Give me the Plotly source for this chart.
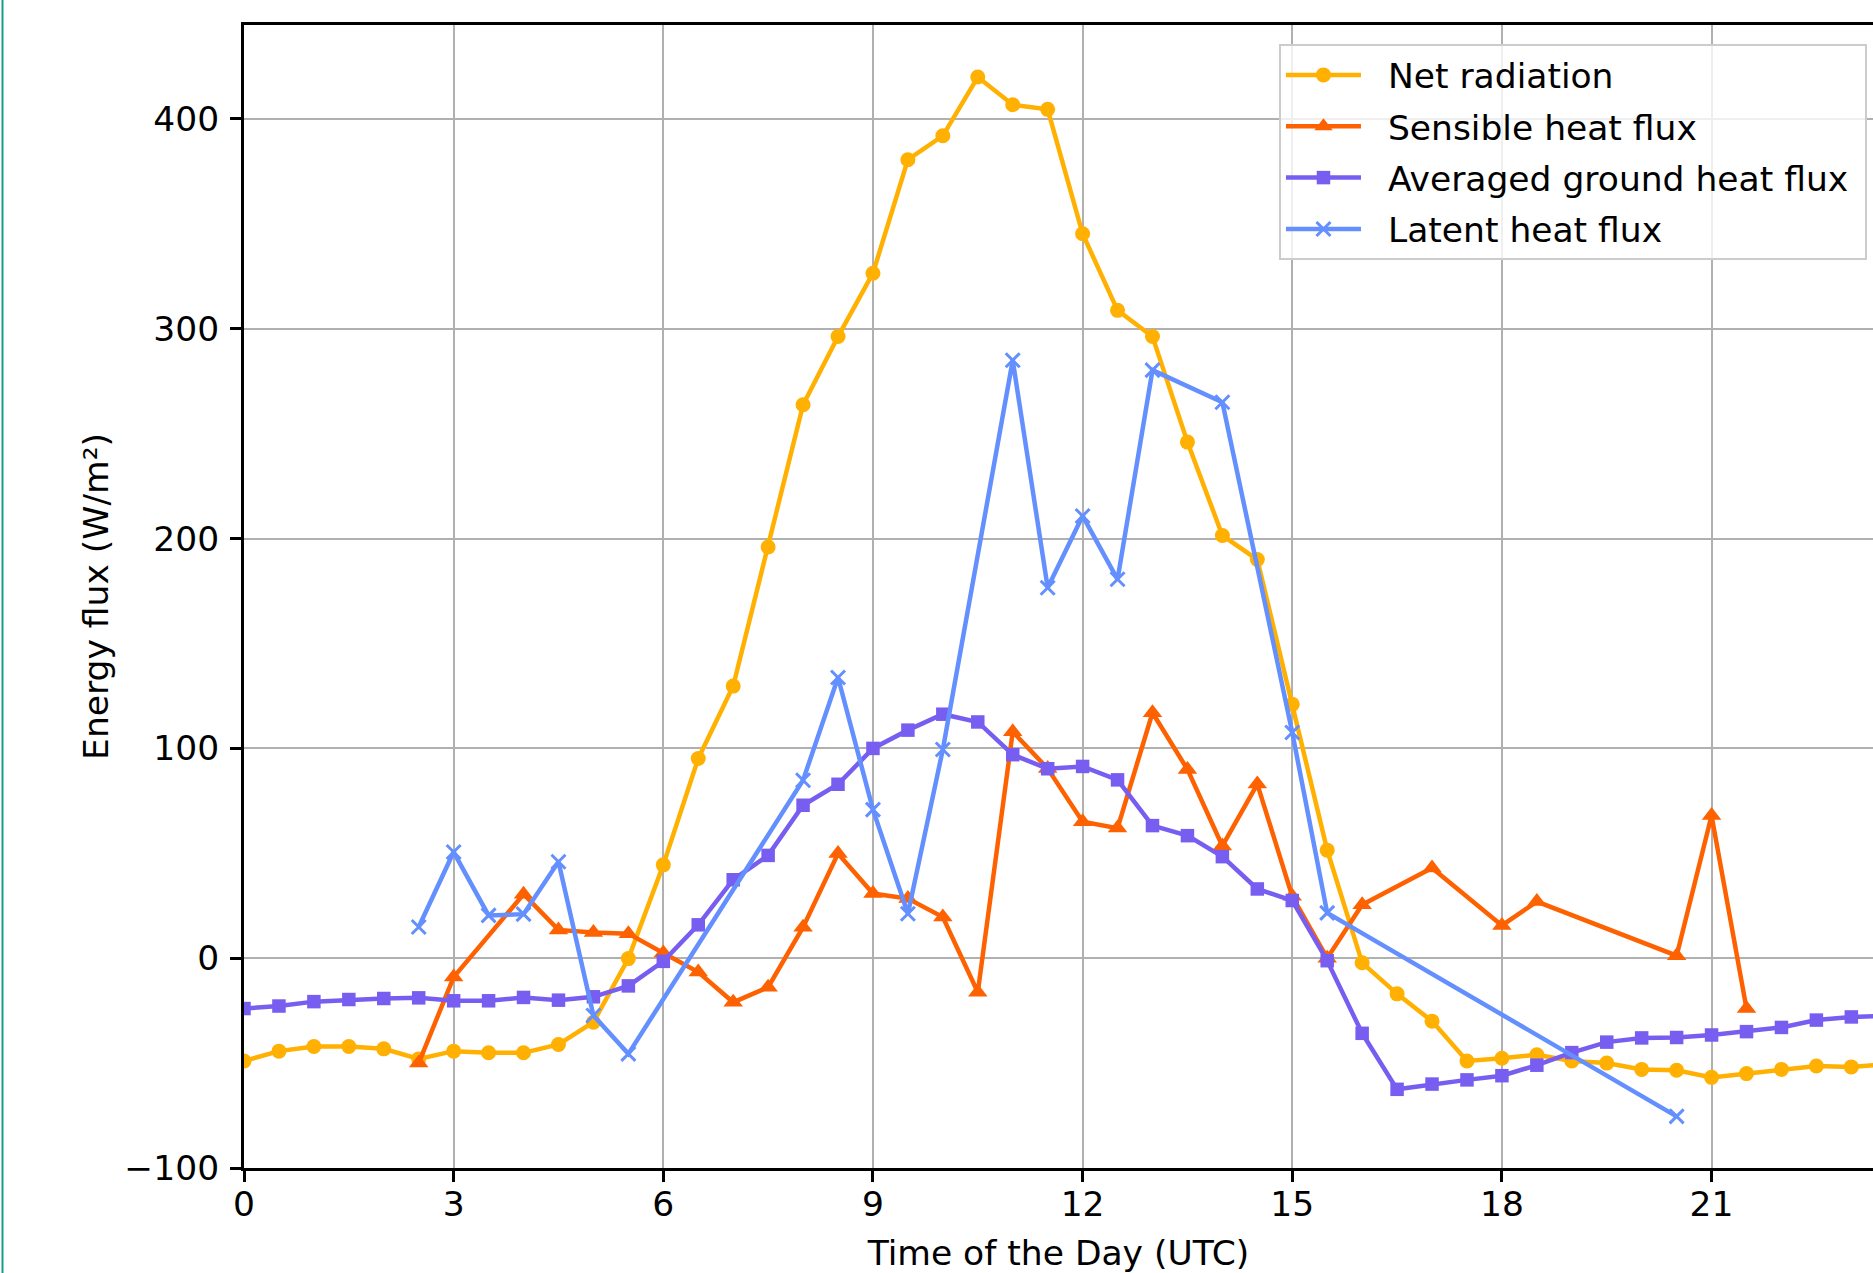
import plotly.graph_objects as go

# ---- data ----
hours_full = [i * 0.5 for i in range(48)]

net_radiation = [-49, -44.3, -42.1, -42.1, -43.2, -48, -44.3, -45.1, -45.1, -41.1,
                 -30.5, -0.2, 44.5, 95.2, 129.7, 196, 263.8, 296.3, 326.5, 380.6,
                 392, 420, 406.8, 404.6, 345.3, 308.8, 296.3, 246, 201.5, 190,
                 121, 51.5, -2.2, -17, -30, -49, -47.7, -46, -49, -50,
                 -53, -53.4, -56.8, -55, -53, -51.4, -51.8, -50.5]

sensible_hours = [2.5, 3, 4, 4.5, 5, 5.5, 6, 6.5, 7, 7.5, 8, 8.5, 9, 9.5, 10, 10.5,
                  11, 11.5, 12, 12.5, 13, 13.5, 14, 14.5, 15, 15.5, 16, 17, 18, 18.5,
                  20.5, 21, 21.5]
sensible_heat = [-50, -9, 30.5, 13.5, 12.2, 11.7, 2.5, -6.6, -21, -13.8, 14.8, 49.9,
                 30.8, 28.4, 19.6, -16.2, 107.9, 90.4, 65, 62, 117, 90, 53.5, 83,
                 29.5, 0, 25.5, 43, 15.6, 27, 1.2, 68, -24]

ground_heat = [-24, -22.8, -20.7, -19.7, -19.2, -18.9, -20.3, -20.3, -18.7, -20,
               -18.4, -13.2, -1.5, 15.9, 37.4, 49, 72.9, 82.9, 100, 108.7,
               116.3, 112.6, 97, 90.3, 91.4, 85, 63.2, 58.4, 48.4, 33,
               27.5, -1.2, -35.8, -62.5, -60, -58, -56, -51, -45, -40,
               -38, -37.8, -36.6, -35, -33, -29.5, -28, -27.5]

latent_hours = [2.5, 3, 3.5, 4, 4.5, 5, 5.5, 8, 8.5, 9, 9.5, 10, 11, 11.5, 12, 12.5,
                13, 14, 15, 15.5, 20.5]
latent_heat = [14.9, 50.6, 20.4, 21, 46, -27.3, -45.6, 84.8, 133.8, 70.8, 21.2, 99.5,
               285, 176.6, 210.8, 180.6, 280.3, 265, 107.6, 21.6, -75.4]

x_ticks = [0, 3, 6, 9, 12, 15, 18, 21]
y_ticks = [-100, 0, 100, 200, 300, 400]

FONT = "DejaVu Sans"
FS = 34.5
PAD_L = "\u00a0\u00a0"
PAD_R = "\u00a0"

fig = go.Figure()
fig.add_trace(go.Scatter(x=hours_full, y=net_radiation, mode="lines+markers",
                         name=PAD_L + "Net radiation" + PAD_R, legendgroup="a",
                         line=dict(color="#FFB000", width=4.5),
                         marker=dict(symbol="circle", size=15, color="#FFB000")))
fig.add_trace(go.Scatter(x=sensible_hours, y=sensible_heat, mode="lines+markers",
                         name=PAD_L + "Sensible heat flux" + PAD_R, legendgroup="b",
                         line=dict(color="#FE6100", width=4.5),
                         marker=dict(symbol="triangle-up", size=17, color="#FE6100")))
fig.add_trace(go.Scatter(x=hours_full, y=ground_heat, mode="lines+markers",
                         name=PAD_L + "Averaged ground heat flux" + PAD_R, legendgroup="c",
                         line=dict(color="#785EF0", width=4.5),
                         marker=dict(symbol="square", size=13.5, color="#785EF0")))
fig.add_trace(go.Scatter(x=latent_hours, y=latent_heat, mode="lines+markers",
                         name=PAD_L + "Latent heat flux" + PAD_R, legendgroup="d",
                         line=dict(color="#648FFF", width=4.5),
                         marker=dict(symbol="x-thin", size=14, color="#648FFF",
                                     line=dict(color="#648FFF", width=3))))

fig.update_layout(
    width=1873, height=1273,
    margin=dict(l=244, r=0, t=25, b=105),
    paper_bgcolor="white", plot_bgcolor="white",
    font=dict(family=FONT, size=FS, color="black"),
    showlegend=True,
    legend=dict(x=0.9963, xanchor="right", y=0.9834, yanchor="top",
                bgcolor="rgba(255,255,255,0.8)", bordercolor="#cccccc", borderwidth=2,
                font=dict(family=FONT, size=FS, color="black"),
                itemwidth=75, tracegroupgap=3.5),
    xaxis=dict(range=[0, 23.31], tickvals=x_ticks, ticktext=[str(v) for v in x_ticks],
               showgrid=True, gridcolor="#b0b0b0", gridwidth=2, zeroline=False,
               showline=True, linecolor="black", linewidth=3, mirror=True,
               ticks="outside", ticklen=11, tickwidth=2.5, tickcolor="black",
               ticklabelstandoff=-7,
               title=dict(text="Time of the Day (UTC)", standoff=23,
                          font=dict(family=FONT, size=FS, color="black"))),
    yaxis=dict(range=[-100, 444.8], tickvals=y_ticks,
               showgrid=True, gridcolor="#b0b0b0", gridwidth=2, zeroline=False,
               showline=True, linecolor="black", linewidth=3,
               ticks="outside", ticklen=11, tickwidth=2.5, tickcolor="black",
               ticklabelstandoff=4,
               title=dict(text="Energy flux (W/m²)", standoff=6,
                          font=dict(family=FONT, size=FS, color="black"))),
    shapes=[dict(type="line", xref="paper", yref="paper",
                 x0=(2.5 - 244) / 1629, x1=(2.5 - 244) / 1629,
                 y0=-105 / 1143, y1=1 + 25 / 1143,
                 line=dict(color="#1a9c8c", width=2))],
)

fig.write_html("out.html", config={"displayModeBar": False},
               post_script="document.body.style.margin='0';document.body.style.overflow='hidden';")
